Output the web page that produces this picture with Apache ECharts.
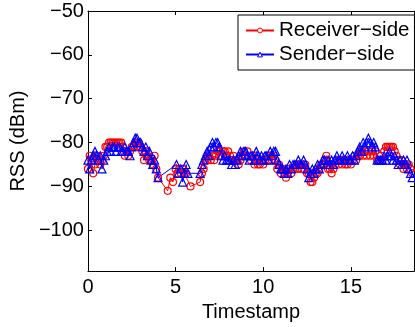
<!DOCTYPE html>
<html>
<head>
<meta charset="utf-8">
<script src="https://cdn.jsdelivr.net/npm/echarts@6/dist/echarts.min.js"></script>
<style>
  html, body { margin: 0; padding: 0; background: #fff; }
  #chart { width: 415px; height: 327px; }
</style>
</head>
<body>
<div id="chart"></div>
<script>
// RSS samples [timestamp, dBm]
const receiverSide = [
  [0.0, -86], [0.1, -83], [0.2, -84], [0.3, -87], [0.4, -85], [0.5, -83], [0.6, -84], [0.7, -85], [0.8, -84], [0.9, -83],
  [1.0, -81], [1.1, -81], [1.2, -80], [1.3, -80], [1.4, -80], [1.5, -80], [1.6, -80], [1.7, -80], [1.8, -80], [1.9, -80],
  [2.0, -81], [2.1, -83], [2.2, -82], [2.3, -83], [2.4, -82], [2.5, -81], [2.6, -81], [2.7, -80], [2.8, -81], [2.9, -80],
  [3.0, -81], [3.1, -82], [3.2, -84], [3.3, -82], [3.4, -83], [3.5, -84], [3.6, -84], [3.7, -85], [3.8, -83], [3.9, -86],
  [4.0, -88], [4.55, -91], [4.7, -88], [4.85, -89], [5.0, -86], [5.1, -87], [5.2, -86], [5.3, -87], [5.4, -86], [5.5, -87],
  [5.6, -87], [5.85, -90], [6.4, -89], [6.5, -87], [6.6, -86], [6.7, -84], [6.8, -84], [6.9, -83], [7.0, -84], [7.1, -83],
  [7.2, -84], [7.3, -83], [7.4, -82], [7.5, -82], [7.6, -83], [7.7, -82], [7.8, -82], [7.9, -83], [8.0, -82], [8.1, -83],
  [8.2, -84], [8.3, -83], [8.4, -84], [8.5, -84], [8.6, -85], [8.7, -84], [8.8, -83], [8.9, -82], [9.0, -83], [9.1, -82],
  [9.2, -83], [9.3, -84], [9.4, -83], [9.5, -85], [9.6, -84], [9.7, -85], [9.8, -85], [9.9, -84], [10.0, -85], [10.1, -84],
  [10.2, -83], [10.3, -84], [10.4, -83], [10.5, -84], [10.6, -83], [10.7, -84], [10.8, -86], [10.9, -85], [11.0, -87], [11.1, -86],
  [11.2, -87], [11.3, -88], [11.4, -87], [11.5, -86], [11.6, -87], [11.7, -86], [11.8, -86], [11.9, -85], [12.0, -86], [12.1, -85],
  [12.2, -86], [12.3, -86], [12.4, -85], [12.5, -87], [12.6, -87], [12.7, -89], [12.8, -89], [12.9, -88], [13.0, -87], [13.1, -87],
  [13.2, -86], [13.3, -85], [13.4, -85], [13.5, -84], [13.6, -83], [13.7, -86], [13.8, -86], [13.9, -87], [14.0, -86], [14.1, -85],
  [14.2, -84], [14.3, -85], [14.4, -84], [14.5, -85], [14.6, -84], [14.7, -85], [14.8, -85], [14.9, -84], [15.0, -85], [15.1, -84],
  [15.2, -83], [15.3, -84], [15.4, -83], [15.5, -83], [15.6, -82], [15.7, -83], [15.8, -82], [15.9, -83], [16.0, -82], [16.1, -83],
  [16.2, -82], [16.3, -83], [16.4, -82], [16.5, -84], [16.6, -84], [16.7, -83], [16.8, -84], [16.9, -82], [17.0, -81], [17.1, -81],
  [17.2, -81], [17.3, -81], [17.4, -81], [17.5, -82], [17.6, -83], [17.7, -84], [17.8, -85], [17.9, -84], [18.0, -86], [18.1, -85],
  [18.2, -86], [18.3, -85], [18.4, -86], [18.5, -87]
];

const senderSide = [
  [0.0, -84], [0.1, -86], [0.2, -84], [0.3, -83], [0.4, -82], [0.5, -83], [0.6, -84], [0.7, -83], [0.8, -86], [0.9, -84],
  [1.0, -83], [1.1, -82], [1.2, -81], [1.3, -82], [1.4, -81], [1.5, -81], [1.6, -82], [1.7, -81], [1.8, -81], [1.9, -82],
  [2.0, -82], [2.1, -81], [2.2, -82], [2.3, -82], [2.4, -83], [2.5, -81], [2.6, -80], [2.7, -79], [2.8, -79], [2.9, -80],
  [3.0, -80], [3.1, -81], [3.2, -82], [3.3, -81], [3.4, -83], [3.5, -82], [3.6, -84], [3.7, -85], [3.8, -84], [3.9, -86],
  [4.0, -88], [5.05, -85], [5.15, -87], [5.3, -86], [5.4, -89], [5.5, -87], [5.6, -85], [5.7, -87], [6.4, -87], [6.5, -85],
  [6.6, -84], [6.7, -83], [6.8, -82], [6.9, -83], [7.0, -81], [7.1, -80], [7.2, -81], [7.3, -80], [7.4, -80], [7.5, -81],
  [7.6, -83], [7.7, -84], [7.8, -83], [7.9, -84], [8.0, -84], [8.1, -84], [8.2, -85], [8.3, -84], [8.4, -85], [8.5, -84],
  [8.6, -83], [8.7, -82], [8.8, -83], [8.9, -82], [9.0, -82], [9.1, -83], [9.2, -84], [9.3, -83], [9.4, -83], [9.5, -84],
  [9.6, -82], [9.7, -83], [9.8, -84], [9.9, -83], [10.0, -84], [10.1, -83], [10.2, -83], [10.3, -84], [10.4, -82], [10.5, -83],
  [10.6, -82], [10.7, -82], [10.8, -84], [10.9, -85], [11.0, -86], [11.1, -86], [11.2, -87], [11.3, -86], [11.4, -87], [11.5, -85],
  [11.6, -86], [11.7, -85], [11.8, -85], [11.9, -85], [12.0, -84], [12.1, -85], [12.2, -85], [12.3, -84], [12.4, -85], [12.5, -86],
  [12.6, -88], [12.7, -87], [12.8, -86], [12.9, -87], [13.0, -86], [13.1, -85], [13.2, -86], [13.3, -85], [13.4, -84], [13.5, -84],
  [13.6, -85], [13.7, -84], [13.8, -85], [13.9, -84], [14.0, -85], [14.1, -84], [14.2, -83], [14.3, -84], [14.4, -84], [14.5, -83],
  [14.6, -84], [14.7, -84], [14.8, -83], [14.9, -84], [15.0, -84], [15.1, -83], [15.2, -84], [15.3, -83], [15.4, -82], [15.5, -81],
  [15.6, -82], [15.7, -80], [15.8, -81], [15.9, -80], [16.0, -79], [16.1, -80], [16.2, -81], [16.3, -80], [16.4, -81], [16.5, -84],
  [16.6, -84], [16.7, -84], [16.8, -84], [16.9, -83], [17.0, -84], [17.1, -83], [17.2, -82], [17.3, -83], [17.4, -84], [17.5, -83],
  [17.6, -84], [17.7, -85], [17.8, -84], [17.9, -85], [18.0, -84], [18.1, -85], [18.2, -84], [18.3, -86], [18.4, -87], [18.5, -88]
];

const seriesNames = ['Receiver\u2212side', 'Sender\u2212side'];
const seriesColors = ['#ff0000', '#0000ff'];
const xRange = [0, 18.6];
const yRange = [-109.3, -50];

const font = 'Liberation Sans, Arial, Helvetica, sans-serif';
const minus = v => String(v).replace('-', '\u2212');

const chart = echarts.init(document.getElementById('chart'), null, { renderer: 'canvas' });

const boxAxis = {
  axisLine: { show: true, onZero: false, lineStyle: { color: '#000', width: 1 } },
  axisTick: { show: true, inside: true, length: 4, lineStyle: { color: '#000' } },
  axisLabel: { show: false },
  splitLine: { show: false }
};

const option = {
  animation: false,
  backgroundColor: '#fff',
  textStyle: { fontFamily: font },
  grid: { left: 84, right: 1, top: 11, bottom: 50 },
  legend: {
    orient: 'vertical',
    left: 238,
    top: 15,
    padding: [5, 5, 5, 7],
    itemWidth: 28,
    itemHeight: 6,
    itemGap: 3,
    borderColor: '#000',
    borderWidth: 1,
    backgroundColor: '#fff',
    textStyle: { fontFamily: font, fontSize: 20.5, color: '#000', lineHeight: 20 },
    data: seriesNames.map((name, i) => ({
      name: name,
      itemStyle: { color: '#fff', borderColor: seriesColors[i], borderWidth: 1 }
    }))
  },
  xAxis: [
    Object.assign({}, boxAxis, {
      type: 'value', min: xRange[0], max: xRange[1], splitNumber: 4,
      position: 'bottom',
      name: 'Timestamp', nameLocation: 'middle', nameGap: 24,
      nameTextStyle: { fontFamily: font, fontSize: 20, color: '#000' },
      axisLabel: { show: true, showMaxLabel: false, margin: 6, fontFamily: font, fontSize: 20, color: '#000' }
    }),
    Object.assign({}, boxAxis, {
      type: 'value', min: xRange[0], max: xRange[1], splitNumber: 4, position: 'top'
    })
  ],
  yAxis: [
    Object.assign({}, boxAxis, {
      type: 'value', min: yRange[0], max: yRange[1], splitNumber: 6,
      position: 'left',
      name: 'RSS (dBm)', nameLocation: 'middle', nameGap: 56, nameRotate: 90,
      nameTextStyle: { fontFamily: font, fontSize: 20, color: '#000' },
      axisLabel: {
        show: true, showMinLabel: false, margin: 4, fontFamily: font, fontSize: 20, color: '#000',
        formatter: v => minus(v)
      }
    }),
    Object.assign({}, boxAxis, {
      type: 'value', min: yRange[0], max: yRange[1], splitNumber: 6, position: 'right'
    })
  ],
  series: [
    {
      name: seriesNames[0],
      type: 'line',
      data: receiverSide,
      symbol: 'circle',
      symbolSize: 7,
      showAllSymbol: true,
      lineStyle: { color: seriesColors[0], width: 1 },
      itemStyle: { color: 'rgba(0,0,0,0)', borderColor: seriesColors[0], borderWidth: 1.2 },
      emphasis: { disabled: true }
    },
    {
      name: seriesNames[1],
      type: 'line',
      data: senderSide,
      symbol: 'triangle',
      symbolSize: 8,
      showAllSymbol: true,
      lineStyle: { color: seriesColors[1], width: 1 },
      itemStyle: { color: 'rgba(0,0,0,0)', borderColor: seriesColors[1], borderWidth: 1.2 },
      emphasis: { disabled: true }
    }
  ]
};

chart.setOption(option);
</script>
</body>
</html>
